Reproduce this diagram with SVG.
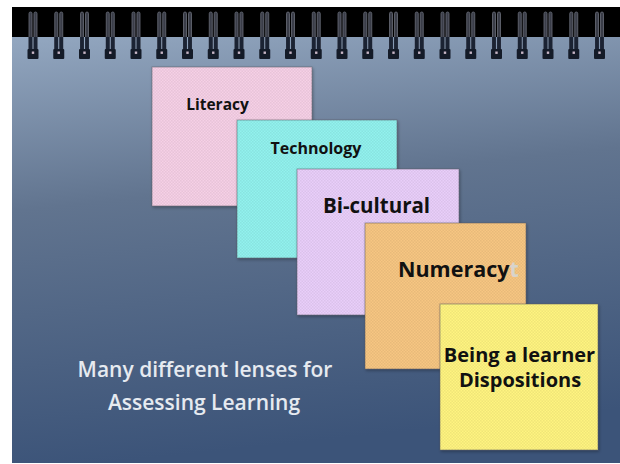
<svg xmlns="http://www.w3.org/2000/svg" xmlns:xlink="http://www.w3.org/1999/xlink" width="620" height="464" viewBox="0 0 620 464">
  <defs>
    <linearGradient id="bg" x1="0" y1="0" x2="0.15" y2="1">
      <stop offset="0" stop-color="#93a7c0"/>
      <stop offset="0.4" stop-color="#61748f"/>
      <stop offset="1" stop-color="#3c5479"/>
    </linearGradient>
    <pattern id="dots" width="3" height="3" patternUnits="userSpaceOnUse">
      <rect x="0" y="0" width="1.5" height="1.5" fill="#000" fill-opacity="0.06"/>
      <rect x="1.5" y="1.5" width="1.5" height="1.5" fill="#000" fill-opacity="0.06"/>
    </pattern>
    <filter id="shadow" x="-10%" y="-10%" width="120%" height="120%">
      <feDropShadow dx="1" dy="1.5" stdDeviation="1.5" flood-color="#000" flood-opacity="0.3"/>
    </filter>
    <g id="ring">
      <rect x="-4" y="12" width="3" height="40" rx="1.5" fill="#3a3d48" stroke="#6a6d78" stroke-width="0.8"/>
      <rect x="1" y="12" width="3" height="40" rx="1.5" fill="#3a3d48" stroke="#6a6d78" stroke-width="0.8"/>
      <rect x="-4.4" y="37" width="3.8" height="14" fill="#1b2333"/>
      <rect x="0.6" y="37" width="3.8" height="14" fill="#1b2333"/>
      <rect x="-5.5" y="49" width="11" height="10" rx="1" fill="#141b28"/>
      <rect x="-1.2" y="51.5" width="2.4" height="2.4" fill="#c8b6c6"/>
    </g>
  </defs>
  <style>
    .card { stroke: #55555f; stroke-opacity: 0.5; stroke-width: 1; filter: url(#shadow); }
    .ov { fill: url(#dots); }
    .lbl { font-family: "Open Sans", "Liberation Sans", sans-serif; font-weight: 700; fill: #111; }
    .cap { font-family: "Open Sans", "Liberation Sans", sans-serif; font-weight: 600; fill: #e6eaf0; font-size: 21px; text-anchor: middle; }
  </style>

  <rect x="0" y="0" width="620" height="464" fill="#ffffff"/>
  <rect x="12" y="37" width="608" height="426" fill="url(#bg)"/>
  <rect x="12" y="7" width="608" height="30" fill="#000"/>

  <g id="binding">
    <use xlink:href="#ring" x="33"/>
    <use xlink:href="#ring" x="58.75"/>
    <use xlink:href="#ring" x="84.5"/>
    <use xlink:href="#ring" x="110.25"/>
    <use xlink:href="#ring" x="136"/>
    <use xlink:href="#ring" x="161.75"/>
    <use xlink:href="#ring" x="187.5"/>
    <use xlink:href="#ring" x="213.25"/>
    <use xlink:href="#ring" x="239"/>
    <use xlink:href="#ring" x="264.75"/>
    <use xlink:href="#ring" x="290.5"/>
    <use xlink:href="#ring" x="316.25"/>
    <use xlink:href="#ring" x="342"/>
    <use xlink:href="#ring" x="367.75"/>
    <use xlink:href="#ring" x="393.5"/>
    <use xlink:href="#ring" x="419.25"/>
    <use xlink:href="#ring" x="445"/>
    <use xlink:href="#ring" x="470.75"/>
    <use xlink:href="#ring" x="496.5"/>
    <use xlink:href="#ring" x="522.25"/>
    <use xlink:href="#ring" x="548"/>
    <use xlink:href="#ring" x="573.75"/>
    <use xlink:href="#ring" x="599.5"/>
  </g>

  <g id="literacy">
    <rect class="card" x="152" y="67" width="160" height="139" fill="#f6d0e6"/>
    <rect class="ov" x="152" y="67" width="160" height="139"/>
    <text class="lbl" x="217.5" y="110" font-size="15.5" text-anchor="middle">Literacy</text>
  </g>

  <g id="technology">
    <rect class="card" x="237" y="120" width="160" height="138" fill="#92f2ee"/>
    <rect class="ov" x="237" y="120" width="160" height="138"/>
    <text class="lbl" x="316" y="154" font-size="16" text-anchor="middle">Technology</text>
  </g>

  <g id="bicultural">
    <rect class="card" x="297" y="169" width="162" height="146" fill="#e9cefa"/>
    <rect class="ov" x="297" y="169" width="162" height="146"/>
    <text class="lbl" x="376.5" y="213" font-size="20.5" text-anchor="middle">Bi-cultural</text>
  </g>

  <g id="numeracy">
    <rect class="card" x="365" y="223" width="161" height="146" fill="#f7c682"/>
    <rect class="ov" x="365" y="223" width="161" height="146"/>
    <text class="lbl" x="398" y="277" font-size="21.5">Numeracy<tspan fill="#d8d4cc">t</tspan></text>
  </g>

  <g id="learner">
    <rect class="card" x="440" y="304" width="158" height="146" fill="#fff480"/>
    <rect class="ov" x="440" y="304" width="158" height="146"/>
    <text class="lbl" x="519.5" y="362" font-size="20" text-anchor="middle">Being a learner</text>
    <text class="lbl" x="520" y="387" font-size="20" text-anchor="middle">Dispositions</text>
  </g>

  <g id="caption">
    <text class="cap" x="205" y="377">Many different lenses for</text>
    <text class="cap" x="204" y="410">Assessing Learning</text>
  </g>
</svg>
